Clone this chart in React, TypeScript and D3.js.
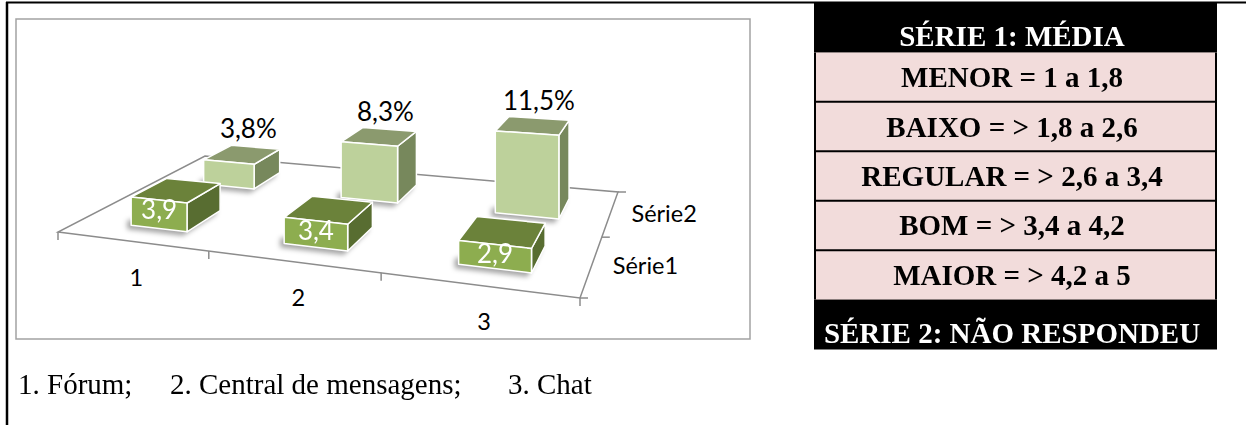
import * as React from 'react';
import {useEffect, useRef} from 'react';
import * as d3 from 'd3';

const width = 1246;
const height = 425;

const categories = ['1', '2', '3'];
const seriesNames = ['Série1', 'Série2'];
const serie1 = [3.9, 3.4, 2.9];
const serie2 = [3.8, 8.3, 11.5];

const legendRows = [
  'SÉRIE 1: MÉDIA',
  'MENOR = 1 a 1,8',
  'BAIXO = > 1,8 a 2,6',
  'REGULAR = > 2,6 a 3,4',
  'BOM = > 3,4 a 4,2',
  'MAIOR = > 4,2 a 5',
  'SÉRIE 2: NÃO RESPONDEU'
];
const darkRows = ['SÉRIE 1: MÉDIA', 'SÉRIE 2: NÃO RESPONDEU'];

const captions = ['1. Fórum;', '2. Central de mensagens;', '3. Chat'];

const locale = d3.formatLocale({decimal: ',', thousands: '.', grouping: [3], currency: ['R$', '']});
const fmt = locale.format('.1f');

// floor of the 3d plot (front-left, front-right, back-right, back-left)
const floor = {fl: [58, 232], fr: [580, 298], br: [618, 192], bl: [205, 156]};

const makeProjection = (c: any) => {
  const [x0, y0] = c.fl, [x1, y1] = c.fr, [x2, y2] = c.br, [x3, y3] = c.bl;
  const dx1 = x1 - x2, dx2 = x3 - x2, dx3 = x0 - x1 + x2 - x3;
  const dy1 = y1 - y2, dy2 = y3 - y2, dy3 = y0 - y1 + y2 - y3;
  const den = dx1 * dy2 - dx2 * dy1;
  const g = (dx3 * dy2 - dx2 * dy3) / den;
  const h = (dx1 * dy3 - dx3 * dy1) / den;
  const a = x1 - x0 + g * x1, b = x3 - x0 + h * x3;
  const d = y1 - y0 + g * y1, e = y3 - y0 + h * y3;
  return (u: number, v: number) => {
    const w = g * u + h * v + 1;
    return [(a * u + b * v + x0) / w, (d * u + e * v + y0) / w, w];
  };
};

const styles: any = {
  'Série1': {front: '#8dad4f', top: '#6b823a', side: '#586d31', label: '#fff'},
  'Série2': {front: '#bdd19b', top: '#8b9a6e', side: '#77885c', label: '#000'}
};

export default function App() {
  const ref = useRef<SVGSVGElement>(null);

  useEffect(() => {
    const svg = d3.select(ref.current);
    svg.selectAll('*').remove();

    const proj = makeProjection(floor);
    const u = d3.scaleBand().domain(categories).range([0.012, 1.012]).paddingInner(0.62).paddingOuter(0.31);
    const v = d3.scaleBand().domain(seriesNames).range([0, 1]).paddingInner(0.54).paddingOuter(0.27);
    const hScale = d3.scaleLinear().domain([0, 12]).range([0, 88]);

    const pt = (uu: number, vv: number, val: number) => {
      const [x, y, w] = proj(uu, vv);
      return [x, y - hScale(val) / w];
    };
    const poly = (pts: number[][]) => 'M' + pts.map(p => p.join(',')).join('L') + 'Z';

    const defs = svg.append('defs');
    defs.append('filter').attr('id', 'soft')
      .attr('x', '-50%').attr('y', '-50%').attr('width', '200%').attr('height', '200%')
      .append('feGaussianBlur').attr('stdDeviation', 2.5);

    // outer page border
    svg.append('line').attr('x1', 6).attr('x2', width).attr('y1', 2.5).attr('y2', 2.5)
      .attr('stroke', '#000').attr('stroke-width', 2);
    svg.append('line').attr('x1', 7).attr('x2', 7).attr('y1', 2).attr('y2', height)
      .attr('stroke', '#000').attr('stroke-width', 2.5);

    // chart area
    svg.append('rect').attr('x', 16).attr('y', 19).attr('width', 734).attr('height', 320)
      .attr('fill', '#fff').attr('stroke', '#a2a2a2').attr('stroke-width', 1.5);

    const g = svg.append('g');

    // floor
    g.append('path')
      .attr('d', poly([proj(0, 0), proj(1, 0), proj(1, 1), proj(0, 1)].map(p => [p[0], p[1]])))
      .attr('fill', 'none').attr('stroke', '#8c8c8c').attr('stroke-width', 1.5);

    const catTicks = d3.range(categories.length + 1).map(i => i / categories.length);
    g.selectAll('.ctick').data(catTicks).join('line')
      .attr('x1', d => proj(d, 0)[0]).attr('x2', d => proj(d, 0)[0])
      .attr('y1', d => proj(d, 0)[1]).attr('y2', d => proj(d, 0)[1] + 8)
      .attr('stroke', '#8c8c8c').attr('stroke-width', 1.5);

    const serTicks = d3.range(seriesNames.length + 1).map(i => i * v.step());
    g.selectAll('.stick').data(serTicks).join('line')
      .attr('x1', d => proj(1, d)[0]).attr('x2', d => proj(1, d)[0] + 8)
      .attr('y1', d => proj(1, d)[1]).attr('y2', d => proj(1, d)[1])
      .attr('stroke', '#8c8c8c').attr('stroke-width', 1.5);

    g.selectAll('.clabel').data(categories).join('text')
      .attr('x', d => proj(u(d)! + u.bandwidth() / 2, 0)[0])
      .attr('y', d => proj(u(d)! + u.bandwidth() / 2, 0)[1] + 44)
      .attr('text-anchor', 'middle')
      .style('font', '23.5px Lato')
      .text(d => d);

    g.selectAll('.slabel').data(seriesNames).join('text')
      .attr('x', d => proj(1, v(d)! + v.bandwidth() / 2)[0] + 21)
      .attr('y', d => proj(1, v(d)! + v.bandwidth() / 2)[1] + 9)
      .style('font', '23.5px Lato')
      .text(d => d);

    const rows = [
      {name: 'Série2', values: serie2, label: (x: number) => fmt(x) + '%'},
      {name: 'Série1', values: serie1, label: (x: number) => fmt(x)}
    ];

    rows.forEach(row => {
      const st = styles[row.name];
      const v0 = v(row.name)!, v1 = v0 + v.bandwidth();
      const boxes = categories.map((c, i) => ({u0: u(c)!, u1: u(c)! + u.bandwidth(), val: row.values[i]}));

      // soft shadow on the floor
      g.append('g').attr('filter', 'url(#soft)')
        .selectAll('path').data(boxes).join('path')
        .attr('d', b => poly([
          pt(b.u0, v0, 0), pt(b.u1, v0, 0), pt(b.u1, v1, 0),
          pt(b.u1, v1, Math.min(b.val, 1.2)), pt(b.u0, v0, Math.min(b.val, 1.2))
        ]))
        .attr('transform', 'translate(-4,4)')
        .attr('fill', '#000').attr('fill-opacity', 0.35);

      const bx = g.append('g').selectAll('g').data(boxes).join('g')
        .attr('stroke', '#fff').attr('stroke-width', 1.5).attr('stroke-linejoin', 'round');
      bx.append('path')
        .attr('d', b => poly([pt(b.u1, v0, 0), pt(b.u1, v1, 0), pt(b.u1, v1, b.val), pt(b.u1, v0, b.val)]))
        .attr('fill', st.side);
      bx.append('path')
        .attr('d', b => poly([pt(b.u0, v0, b.val), pt(b.u1, v0, b.val), pt(b.u1, v1, b.val), pt(b.u0, v1, b.val)]))
        .attr('fill', st.top);
      bx.append('path')
        .attr('d', b => poly([pt(b.u0, v0, 0), pt(b.u1, v0, 0), pt(b.u1, v0, b.val), pt(b.u0, v0, b.val)]))
        .attr('fill', st.front);

      const lab = g.append('g').selectAll('text').data(boxes).join('text')
        .attr('text-anchor', 'middle')
        .attr('fill', st.label)
        .style('font', '26px Lato')
        .text(b => row.label(b.val));
      if (row.name === 'Série1') {
        lab.attr('x', b => (pt(b.u0, v0, b.val)[0] + pt(b.u1, v0, b.val)[0]) / 2)
          .attr('y', b => (pt(b.u0, v0, b.val)[1] + pt(b.u1, v0, b.val)[1]) / 2 + 19);
      } else {
        lab.attr('x', b => pt((b.u0 + b.u1) / 2, (v0 + v1) / 2, b.val)[0] + 6)
          .attr('y', b => pt((b.u0 + b.u1) / 2, (v0 + v1) / 2, b.val)[1] - 16);
      }
    });

    // legend table
    const tx0 = 814, tx1 = 1217;
    const y = d3.scaleBand().domain(legendRows).range([3, 349]);
    const tbl = svg.append('g');
    tbl.selectAll('rect').data(legendRows).join('rect')
      .attr('x', tx0).attr('width', tx1 - tx0)
      .attr('y', d => y(d)!).attr('height', y.bandwidth() + 0.5)
      .attr('fill', d => darkRows.includes(d) ? '#000' : '#f2dcdb');
    const pink = legendRows.filter(d => !darkRows.includes(d));
    tbl.selectAll('.sep').data(pink.slice(1)).join('line')
      .attr('x1', tx0).attr('x2', tx1)
      .attr('y1', d => y(d)!).attr('y2', d => y(d)!)
      .attr('stroke', '#000').attr('stroke-width', 2);
    [tx0 + 1, tx1 - 1].forEach(xx => {
      tbl.append('line').attr('x1', xx).attr('x2', xx)
        .attr('y1', y(pink[0])!).attr('y2', y(pink[pink.length - 1])! + y.bandwidth())
        .attr('stroke', '#000').attr('stroke-width', 2);
    });
    tbl.selectAll('text').data(legendRows).join('text')
      .attr('x', 1012)
      .attr('y', d => darkRows.includes(d) ? y(d)! + y.bandwidth() - 6 : y(d)! + y.bandwidth() / 2 + 10)
      .attr('text-anchor', 'middle')
      .attr('fill', d => darkRows.includes(d) ? '#fff' : '#000')
      .style('font', 'bold 29px "Liberation Serif"')
      .text(d => d);

    // caption
    const tabStops = [18, 170, 508];
    svg.append('g').selectAll('text').data(captions).join('text')
      .attr('x', (d, i) => tabStops[i])
      .attr('y', 394)
      .style('font', '29px "Liberation Serif"')
      .text(d => d);
  }, []);

  return (
    <svg ref={ref} width={width} height={height}
      style={{position: 'absolute', left: 0, top: 0, background: '#fff'}}/>
  );
}
